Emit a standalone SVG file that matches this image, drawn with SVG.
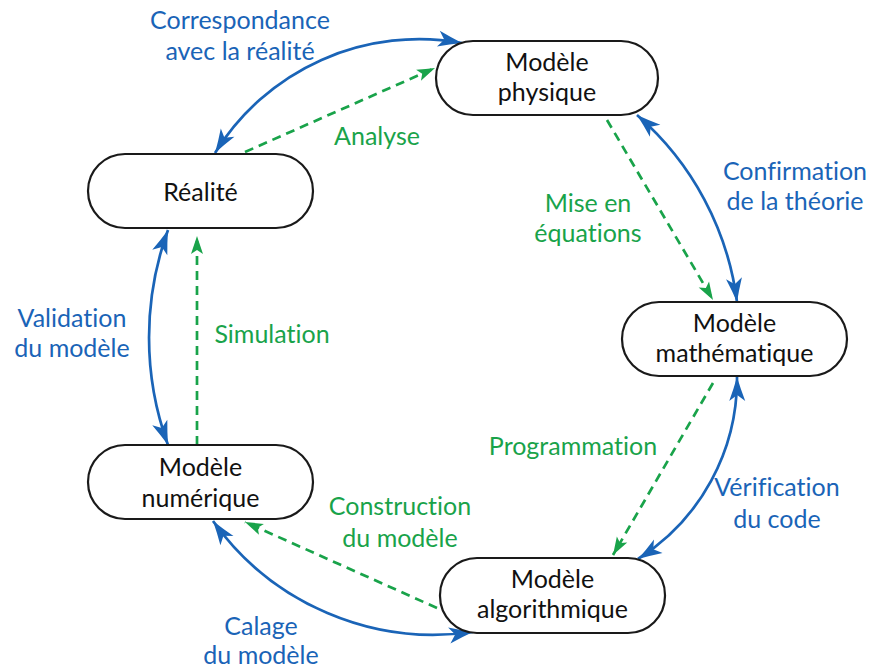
<svg xmlns="http://www.w3.org/2000/svg" width="872" height="669" viewBox="0 0 872 669">
<style>
text{font-variant-ligatures:none;font-feature-settings:"liga" 0,"dlig" 0}
.box{fill:#fff;stroke:#1a1a1a;stroke-width:2.2}
.nt{font-family:Lato,"Open Sans","Liberation Sans",sans-serif;font-size:25px;fill:#111;text-anchor:middle}
.lb{font-family:Lato,"Open Sans","Liberation Sans",sans-serif;font-size:25px;fill:#1a64b7;text-anchor:middle}
.lg{font-family:Lato,"Open Sans","Liberation Sans",sans-serif;font-size:25px;fill:#19a34a;text-anchor:middle}
.cb{fill:none;stroke:#1a64b7;stroke-width:2.7;marker-start:url(#ab);marker-end:url(#ab)}
.cg{fill:none;stroke:#19a34a;stroke-width:2.7;stroke-dasharray:9 6;marker-end:url(#ag)}
</style>
<defs>
<marker id="ab" markerUnits="userSpaceOnUse" markerWidth="28" markerHeight="22" refX="25" refY="11" orient="auto-start-reverse">
<path d="M25,11 Q13,7.5 1,3 L7,11 L1,19 Q13,14.5 25,11 Z" fill="#1a64b7"/>
</marker>
<marker id="ag" markerUnits="userSpaceOnUse" markerWidth="22" markerHeight="16" refX="19" refY="8" orient="auto">
<path d="M19,8 Q10,5 1,2 L5,8 L1,14 Q10,11 19,8 Z" fill="#19a34a"/>
</marker>
</defs>
<g id="connectors">
<path class="cb" d="M215,153 A240,240 0 0 1 462,43"/>
<path class="cg" d="M245,152 L435,68"/>
<path class="cg" d="M607,120 L713,300"/>
<path class="cb" d="M637,115 A297,297 0 0 1 737,302"/>
<path class="cg" d="M713,383 L613,555"/>
<path class="cb" d="M737,377 A213,213 0 0 1 638,559"/>
<path class="cg" d="M437,608 L245,522"/>
<path class="cb" d="M213,521 A271,271 0 0 0 473,632"/>
<path class="cb" d="M168,230 A314,314 0 0 0 168,445"/>
<path class="cg" d="M197,445 L197,236"/>
</g>
<g id="labels">
<text class="lb" x="240" y="29">Correspondance</text>
<text class="lb" x="240" y="60">avec la réalité</text>
<text class="lg" x="377" y="145">Analyse</text>
<text class="lg" x="588" y="212">Mise en</text>
<text class="lg" x="588" y="242">équations</text>
<text class="lb" x="795" y="180">Confirmation</text>
<text class="lb" x="795" y="210">de la théorie</text>
<text class="lg" x="573" y="455">Programmation</text>
<text class="lb" x="777" y="496">Vérification</text>
<text class="lb" x="777" y="528">du code</text>
<text class="lg" x="400" y="515">Construction</text>
<text class="lg" x="400" y="547">du modèle</text>
<text class="lb" x="261" y="635">Calage</text>
<text class="lb" x="261" y="664">du modèle</text>
<text class="lb" x="72" y="327">Validation</text>
<text class="lb" x="72" y="357">du modèle</text>
<text class="lg" x="272" y="343">Simulation</text>
</g>
<g id="physique">
<rect class="box" x="436" y="41" width="222" height="74" rx="37"/>
<text class="nt" x="547" y="71">Modèle</text>
<text class="nt" x="547" y="101">physique</text>
</g>
<g id="realite">
<rect class="box" x="88" y="154" width="225" height="74" rx="37"/>
<text class="nt" x="200.5" y="201">Réalité</text>
</g>
<g id="numerique">
<rect class="box" x="88" y="445" width="225" height="74" rx="37"/>
<text class="nt" x="200.5" y="476">Modèle</text>
<text class="nt" x="200.5" y="507">numérique</text>
</g>
<g id="mathematique">
<rect class="box" x="622" y="302" width="225" height="74" rx="37"/>
<text class="nt" x="734.5" y="332">Modèle</text>
<text class="nt" x="734.5" y="362">mathématique</text>
</g>
<g id="algorithmique">
<rect class="box" x="440" y="558" width="225" height="75" rx="37"/>
<text class="nt" x="552.5" y="588">Modèle</text>
<text class="nt" x="552.5" y="618">algorithmique</text>
</g>
</svg>
